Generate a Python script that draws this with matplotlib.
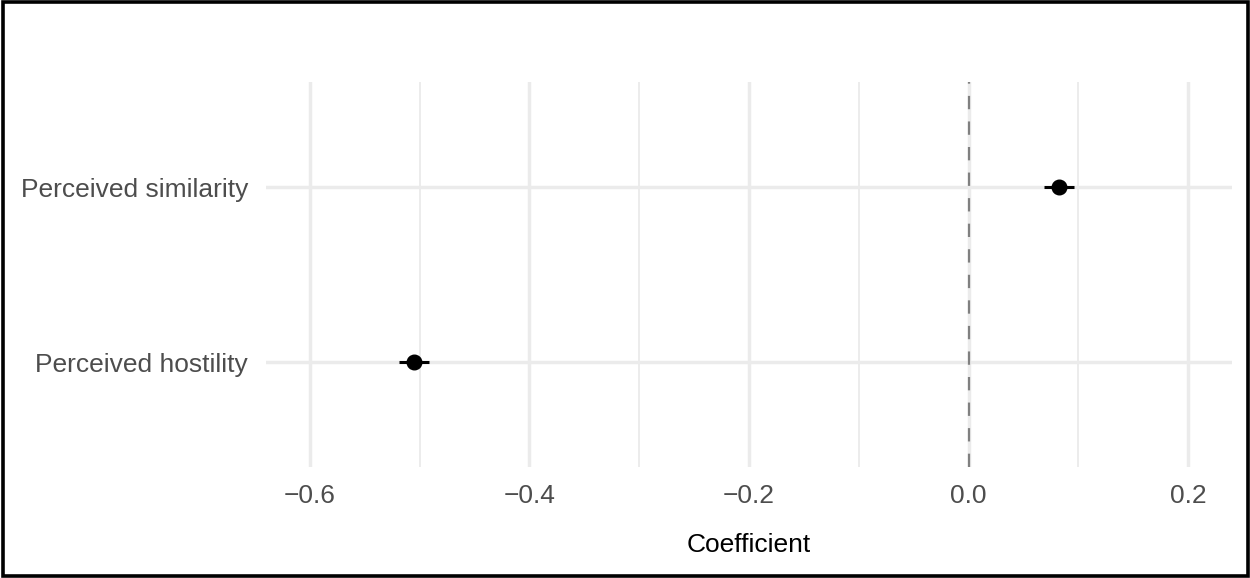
import matplotlib.pyplot as plt
from matplotlib.patches import Rectangle

plt.rcParams['font.family'] = ['Liberation Sans', 'DejaVu Sans']

# Coeficientes del modelo
variables = ['Perceived hostility', 'Perceived similarity']
coef = [-0.505, 0.0825]
err = [0.0135, 0.0135]
xticks = [-0.6, -0.4, -0.2, 0.0, 0.2]
xticks_menores = [-0.5, -0.3, -0.1, 0.1]

fig = plt.figure(figsize=(12.5, 5.78), dpi=100)
ax = fig.add_axes([0.2128, 0.192, 0.7728, 0.666])

ypos = list(range(1, len(variables) + 1))

# Rejilla estilo ggplot
for x in xticks:
    ax.axvline(x, color='#EBEBEB', lw=2.5, zorder=0)
for x in xticks_menores:
    ax.axvline(x, color='#EBEBEB', lw=1.3, zorder=0)
for y in ypos:
    ax.axhline(y, color='#EBEBEB', lw=2.5, zorder=0)

ax.axvline(0, color='#808080', lw=1.6, linestyle=(0, (6, 5.5)), zorder=1)

ax.errorbar(coef, ypos, xerr=err, fmt='o', color='black', ms=10.5,
            elinewidth=2.2, capsize=0, zorder=3)

ax.set_xlim(-0.640, 0.240)
ax.set_ylim(0.4, 2.6)
ax.set_xticks(xticks)
ax.set_xticklabels([f'{t:.1f}'.replace('-', '\u2212') for t in xticks])
ax.set_yticks(ypos)
ax.set_yticklabels(variables)
ax.tick_params(length=0, labelsize=19, labelcolor='#4D4D4D')
ax.tick_params(axis='x', pad=12)
ax.tick_params(axis='y', pad=13)
ax.set_xlabel('Coefficient', fontsize=19, color='black', labelpad=18)

for s in ax.spines.values():
    s.set_visible(False)

# Marco negro alrededor de la figura
fig.patches.append(Rectangle((0.002, 0.0035), 0.996, 0.993, transform=fig.transFigure,
                             fill=False, edgecolor='black', lw=2.6))

plt.savefig('out.png', dpi=100)
